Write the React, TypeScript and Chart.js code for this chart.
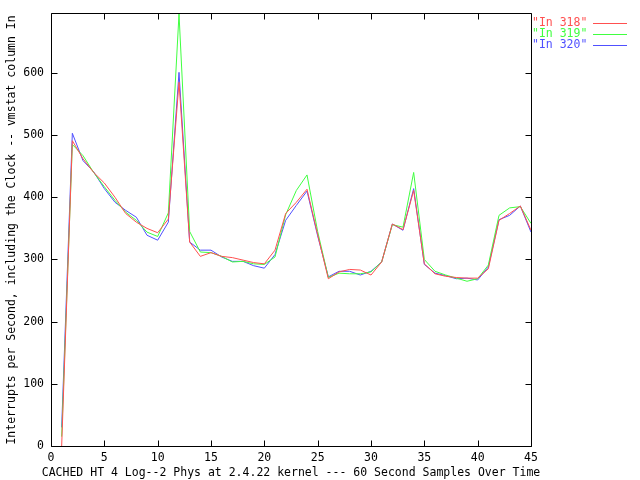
import React, { useEffect, useRef } from "react";
import { Chart, registerables } from "chart.js";

Chart.register(...registerables);

const xValues = [
  1, 2, 3, 4, 5, 6, 7, 8, 9, 10, 11, 12, 13, 14, 15, 16, 17, 18, 19, 20, 21, 22, 23,
  24, 25, 26, 27, 28, 29, 30, 31, 32, 33, 34, 35, 36, 37, 38, 39, 40, 41, 42, 43, 44, 45,
];

const in318 = [
  0, 491, 462, 440, 423, 400, 374, 360, 350, 343, 365, 585, 328, 305, 311, 305, 303, 299,
  295, 293, 315, 374, 392, 413, 340, 269, 280, 284, 283, 275, 296, 357, 348, 411, 293, 277,
  273, 271, 270, 270, 285, 363, 374, 386, 347,
];

const in319 = [
  15, 485, 467, 440, 417, 395, 376, 363, 344, 337, 375, 695, 345, 312, 311, 305, 296, 297,
  293, 292, 304, 372, 411, 436, 345, 271, 278, 277, 277, 280, 296, 356, 352, 440, 300, 281,
  275, 270, 265, 269, 291, 371, 383, 385, 358,
];

const in320 = [
  30, 503, 459, 441, 414, 392, 379, 368, 339, 331, 360, 601, 328, 315, 315, 304, 297, 297,
  290, 286, 308, 363, 387, 410, 338, 272, 281, 281, 275, 281, 296, 357, 347, 414, 292, 278,
  274, 269, 270, 267, 288, 364, 371, 386, 344,
];

const xTickValues = [0, 5, 10, 15, 20, 25, 30, 35, 40, 45];
const yTickValues = [0, 100, 200, 300, 400, 500, 600];

const seriesNames = ['"In 318"', '"In 319"', '"In 320"'];
const seriesColors = ["#ff5050", "#40ff40", "#5050ff"];

const xTitle = "CACHED HT 4 Log--2 Phys at 2.4.22 kernel --- 60 Second Samples Over Time";
const yTitle = "Interrupts per Second, including the Clock -- vmstat column In";

const FONT = "'DejaVu Sans Mono', monospace";
const FONT_SIZE = 11.5;

const gnuFrame = {
  id: "gnuFrame",
  afterDraw(chart: any) {
    const ctx = chart.ctx;
    const a = chart.chartArea;
    const L = Math.floor(a.left) + 0.5;
    const R = Math.floor(a.right) + 0.5;
    const T = Math.floor(a.top) + 0.5;
    const B = Math.floor(a.bottom) + 0.5;
    ctx.save();
    ctx.strokeStyle = "#000";
    ctx.lineWidth = 1;
    ctx.beginPath();
    ctx.rect(L, T, R - L, B - T);
    const tl = 6;
    const xs = chart.scales.x;
    xs.ticks.forEach((t: any) => {
      const px = Math.round(xs.getPixelForValue(t.value)) + 0.5;
      ctx.moveTo(px, B);
      ctx.lineTo(px, B - tl);
      ctx.moveTo(px, T);
      ctx.lineTo(px, T + tl);
    });
    const ys = chart.scales.y;
    ys.ticks.forEach((t: any) => {
      const py = Math.round(ys.getPixelForValue(t.value)) + 0.5;
      ctx.moveTo(L, py);
      ctx.lineTo(L + tl, py);
      ctx.moveTo(R, py);
      ctx.lineTo(R - tl, py);
    });
    ctx.stroke();

    ctx.font = `${FONT_SIZE}px ${FONT}`;
    ctx.fillStyle = "#000";
    ctx.textAlign = "center";
    ctx.textBaseline = "middle";
    ctx.fillText(xTitle, (a.left + a.right) / 2, 473);

    ctx.save();
    ctx.translate(12, (a.top + a.bottom) / 2);
    ctx.rotate(-Math.PI / 2);
    ctx.fillText(yTitle, 0, 0);
    ctx.restore();

    const rows = [23, 34, 45];
    ctx.textAlign = "left";
    chart.data.datasets.forEach((ds: any, i: number) => {
      const y = rows[i];
      ctx.fillStyle = ds.borderColor;
      ctx.fillText(ds.label, 532, y);
      ctx.strokeStyle = ds.borderColor;
      ctx.beginPath();
      ctx.moveTo(593, y + 0.5);
      ctx.lineTo(627, y + 0.5);
      ctx.stroke();
    });
    ctx.restore();
  },
};

export default function App() {
  const ref = useRef<HTMLCanvasElement>(null);
  useEffect(() => {
    const makeData = (vals: number[]) => xValues.map((x, i) => ({ x, y: vals[i] }));
    const chart = new Chart(ref.current!, {
      type: "line",
      data: {
        datasets: [in318, in319, in320].map((vals, i) => ({
          label: seriesNames[i],
          data: makeData(vals),
          borderColor: seriesColors[i],
          backgroundColor: seriesColors[i],
          borderWidth: 1,
          pointRadius: 0,
          tension: 0,
          fill: false,
        })),
      },
      options: {
        responsive: false,
        animation: false,
        devicePixelRatio: 1,
        layout: { padding: { top: 13, right: 109, left: 0, bottom: 0 } },
        plugins: { legend: { display: false }, tooltip: { enabled: false }, title: { display: false } },
        scales: {
          x: {
            type: "linear",
            min: 0,
            max: 45,
            grid: { display: false, drawTicks: false },
            border: { display: false },
            afterBuildTicks: (s: any) => {
              s.ticks = xTickValues.map((v) => ({ value: v }));
            },
            ticks: {
              maxRotation: 0,
              autoSkip: false,
              padding: 5,
              color: "#000",
              font: { family: FONT, size: FONT_SIZE },
            },
            afterFit: (s: any) => {
              s.height = 34;
            },
          },
          y: {
            type: "linear",
            min: 0,
            max: 695,
            grid: { display: false, drawTicks: false },
            border: { display: false },
            afterBuildTicks: (s: any) => {
              s.ticks = yTickValues.map((v) => ({ value: v }));
            },
            ticks: {
              padding: 7,
              autoSkip: false,
              color: "#000",
              font: { family: FONT, size: FONT_SIZE },
            },
            afterFit: (s: any) => {
              s.width = 51;
            },
          },
        },
      },
      plugins: [gnuFrame],
    });
    return () => chart.destroy();
  }, []);
  return (
    <div style={{ position: "fixed", left: 0, top: 0, width: 640, height: 480, background: "#fff" }}>
      <canvas ref={ref} width={640} height={480} />
    </div>
  );
}
